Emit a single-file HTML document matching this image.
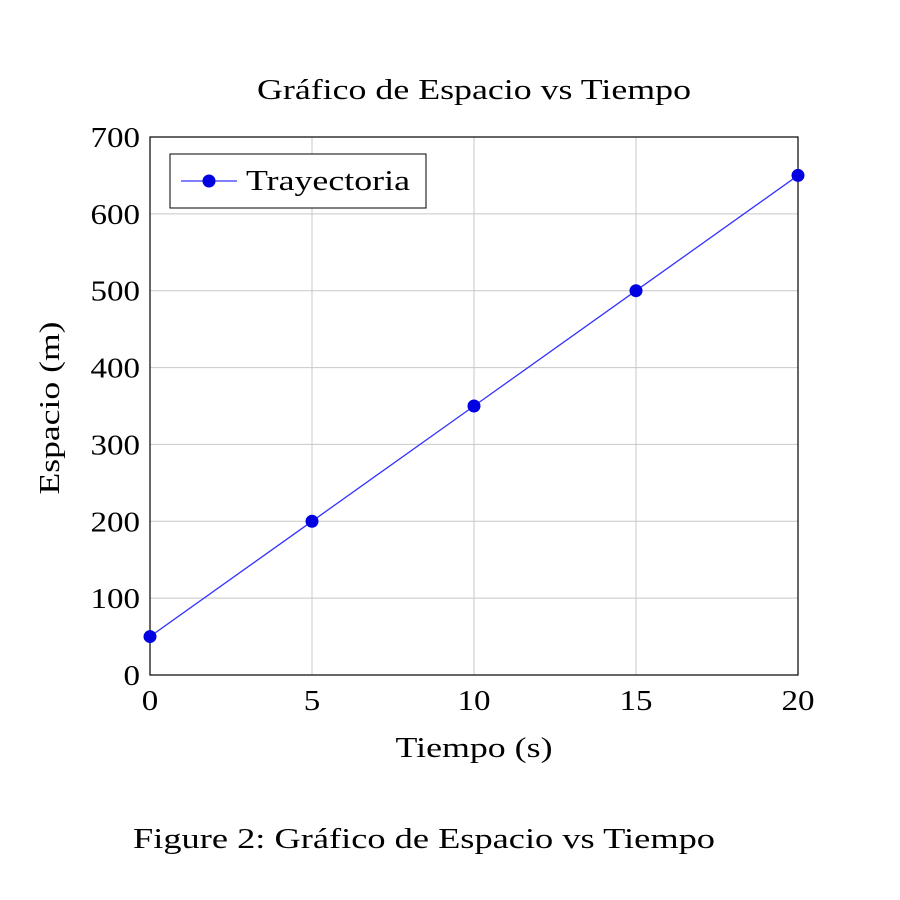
<!DOCTYPE html>
<html><head><meta charset="utf-8"><style>
html,body{margin:0;padding:0;background:#fff;}
svg{display:block;font-family:"Liberation Serif",serif;}
</style></head><body>
<svg id="chart" width="900" height="900" viewBox="0 0 900 900">
<text x="474" y="99" font-size="29" text-anchor="middle" textLength="434" lengthAdjust="spacingAndGlyphs">Gráfico de Espacio vs Tiempo</text>
<g id="grid"></g>
<g id="axes"></g>
<g id="series"></g>
<text x="474" y="757" font-size="29" text-anchor="middle" textLength="157" lengthAdjust="spacingAndGlyphs">Tiempo (s)</text>
<text transform="translate(59,408) rotate(-90)" font-size="29" text-anchor="middle" textLength="173" lengthAdjust="spacingAndGlyphs">Espacio (m)</text>
<g>
<rect x="170" y="154" width="256" height="54" fill="#fff" stroke="#000" stroke-width="1"/>
<line x1="181" y1="181" x2="237" y2="181" stroke="#3333ff" stroke-width="1.3"/>
<circle cx="209" cy="181" r="6.5" fill="#0000e0"/>
<text x="246" y="190" font-size="29" textLength="164" lengthAdjust="spacingAndGlyphs">Trayectoria</text>
</g>
<text x="133" y="848" font-size="29" textLength="582" lengthAdjust="spacingAndGlyphs">Figure 2: Gráfico de Espacio vs Tiempo</text>
</svg>
<script>
const xValues=[0,5,10,15,20];
const yValues=[50,200,350,500,650];
const xTicks=[0,5,10,15,20];
const yTicks=[0,100,200,300,400,500,600,700];
const X0=150,X1=798,Y0=675,Y1=137;
const sx=v=>X0+(v-0)/(20-0)*(X1-X0);
const sy=v=>Y0-(v-0)/(700-0)*(Y0-Y1);
const NS="http://www.w3.org/2000/svg";
function mk(tag,attrs,parent){const e=document.createElementNS(NS,tag);for(const k in attrs)e.setAttribute(k,attrs[k]);parent.appendChild(e);return e;}
const grid=document.getElementById('grid'),axes=document.getElementById('axes'),series=document.getElementById('series');
xTicks.forEach(t=>{
 const l=mk('line',{x1:sx(t),x2:sx(t),y1:Y1,y2:Y0,stroke:'#c8c8c8','stroke-width':1},grid);
 
 
 const s=String(t);
 const tx=mk('text',{x:sx(t),y:Y0+35,'font-size':29,'text-anchor':'middle',textLength:s.length*16.5,lengthAdjust:'spacingAndGlyphs'},axes);
 tx.textContent=s;
 
 
});
yTicks.forEach(t=>{
 const l=mk('line',{x1:X0,x2:X1,y1:sy(t),y2:sy(t),stroke:'#c8c8c8','stroke-width':1},grid);
 
 
 const s=String(t);
 const tx=mk('text',{x:X0-10,y:sy(t)+10,'font-size':29,'text-anchor':'end',textLength:s.length*16.5,lengthAdjust:'spacingAndGlyphs'},axes);
 tx.textContent=s;
 
 
});
const fr=mk('rect',{x:X0,y:Y1,width:X1-X0,height:Y0-Y1,fill:'none',stroke:'#000','stroke-width':1.2},axes);


const pl=mk('polyline',{points:xValues.map((x,i)=>sx(x)+','+sy(yValues[i])).join(' '),fill:'none',stroke:'#3333ff','stroke-width':1.3},series);


xValues.forEach((x,i)=>{
 const c=mk('circle',{cx:sx(x),cy:sy(yValues[i]),r:6.5,fill:'#0000e0'},series);
 
 
});
</script>
</body></html>
